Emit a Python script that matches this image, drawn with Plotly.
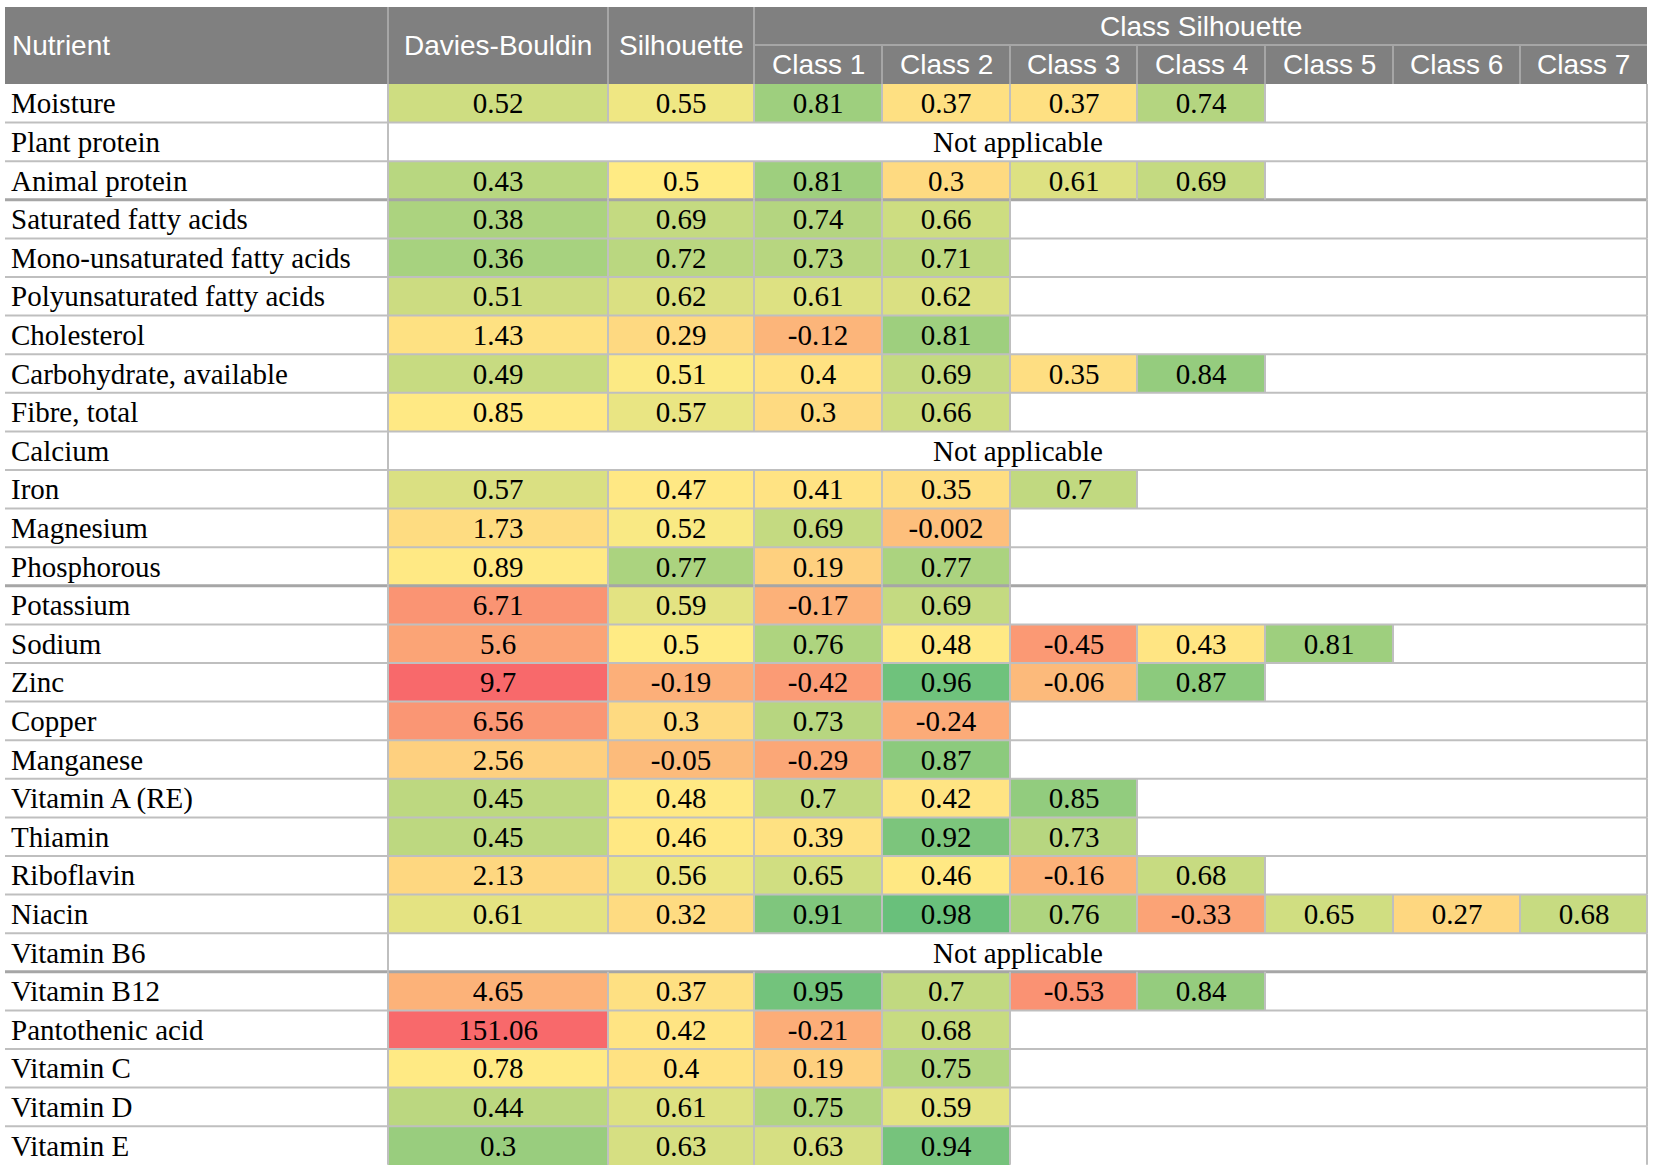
import numpy as np
import plotly.graph_objects as go

# Dados da tabela
######################################################################
nutrients = ["Moisture", "Plant protein", "Animal protein", "Saturated fatty acids",
             "Mono-unsaturated fatty acids", "Polyunsaturated fatty acids", "Cholesterol",
             "Carbohydrate, available", "Fibre, total", "Calcium", "Iron", "Magnesium",
             "Phosphorous", "Potassium", "Sodium", "Zinc", "Copper", "Manganese",
             "Vitamin A (RE)", "Thiamin", "Riboflavin", "Niacin", "Vitamin B6",
             "Vitamin B12", "Pantothenic acid", "Vitamin C", "Vitamin D", "Vitamin E"]

davies_bouldin = [0.52, None, 0.43, 0.38, 0.36, 0.51, 1.43, 0.49, 0.85, None, 0.57, 1.73,
                  0.89, 6.71, 5.6, 9.7, 6.56, 2.56, 0.45, 0.45, 2.13, 0.61, None,
                  4.65, 151.06, 0.78, 0.44, 0.3]

silhouette = [0.55, None, 0.5, 0.69, 0.72, 0.62, 0.29, 0.51, 0.57, None, 0.47, 0.52,
              0.77, 0.59, 0.5, -0.19, 0.3, -0.05, 0.48, 0.46, 0.56, 0.32, None,
              0.37, 0.42, 0.4, 0.61, 0.63]

class_silhouette = [
    [0.81, 0.37, 0.37, 0.74],
    [],
    [0.81, 0.3, 0.61, 0.69],
    [0.74, 0.66],
    [0.73, 0.71],
    [0.61, 0.62],
    [-0.12, 0.81],
    [0.4, 0.69, 0.35, 0.84],
    [0.3, 0.66],
    [],
    [0.41, 0.35, 0.7],
    [0.69, -0.002],
    [0.19, 0.77],
    [-0.17, 0.69],
    [0.76, 0.48, -0.45, 0.43, 0.81],
    [-0.42, 0.96, -0.06, 0.87],
    [0.73, -0.24],
    [-0.29, 0.87],
    [0.7, 0.42, 0.85],
    [0.39, 0.92, 0.73],
    [0.65, 0.46, -0.16, 0.68],
    [0.91, 0.98, 0.76, -0.33, 0.65, 0.27, 0.68],
    [],
    [0.95, 0.7, -0.53, 0.84],
    [-0.21, 0.68],
    [0.19, 0.75],
    [0.75, 0.59],
    [0.63, 0.94],
]

class_labels = ["Class 1", "Class 2", "Class 3", "Class 4", "Class 5", "Class 6", "Class 7"]
group_breaks = [3, 13, 23]   # linhas com separador mais grosso

# Geometria (em pixels)
######################################################################
W, H = 1654, 1168
col_edges = [5, 388, 608, 754, 882, 1010, 1137, 1265, 1393, 1520, 1647]
head_top, head_mid, body_top = 7, 45, 84
row_h = 38.6
n_rows = len(nutrients)
row_edges = [body_top + i*row_h for i in range(n_rows + 1)]
row_mid = [body_top + (i + 0.5)*row_h for i in range(n_rows)]

serif = "Liberation Serif"
sans = "Liberation Sans"
grid_c = "#BFBFBF"
txt_size = 29
hdr_size = 28

# Matrizes
n_cls = len(class_labels)
sil_z = np.full((n_rows, 1 + n_cls), np.nan)
sil_txt = [["" for _ in range(1 + n_cls)] for _ in range(n_rows)]
db_z = np.full((n_rows, 1), np.nan)
db_txt = [[""] for _ in range(n_rows)]
for i in range(n_rows):
    if davies_bouldin[i] is not None:
        db_z[i, 0] = davies_bouldin[i]
        db_txt[i][0] = str(davies_bouldin[i])
    if silhouette[i] is not None:
        sil_z[i, 0] = silhouette[i]
        sil_txt[i][0] = str(silhouette[i])
    for j, v in enumerate(class_silhouette[i]):
        sil_z[i, 1 + j] = v
        sil_txt[i][1 + j] = str(v)

red, yellow, green = "#F8696B", "#FFEB84", "#63BE7B"

fig = go.Figure()

# Davies-Bouldin: menor é melhor
fig.add_trace(go.Heatmap(
    x=col_edges[1:3], y=row_edges, z=db_z, text=db_txt, texttemplate="%{text}",
    textfont=dict(family=serif, size=txt_size, color="black"),
    colorscale=[[0, green], [0.0665, yellow], [1, red]], zmin=0.08, zmax=9.7,
    showscale=False, hoverinfo="skip"))

# Silhouette e Class Silhouette: maior é melhor
fig.add_trace(go.Heatmap(
    x=col_edges[2:], y=row_edges, z=sil_z, text=sil_txt, texttemplate="%{text}",
    textfont=dict(family=serif, size=txt_size, color="black"),
    colorscale=[[0, red], [0.75, yellow], [1, green]], zmin=-1, zmax=1,
    showscale=False, hoverinfo="skip"))

shapes = []
# Cabeçalho
shapes.append(dict(type="rect", x0=col_edges[0], x1=col_edges[-1], y0=head_top, y1=body_top,
                   fillcolor="#808080", line_width=0, layer="below"))
hdr_line = dict(color="#A6A6A6", width=2)
for x in col_edges[1:4]:
    shapes.append(dict(type="line", x0=x, x1=x, y0=head_top, y1=body_top, line=hdr_line))
for x in col_edges[4:-1]:
    shapes.append(dict(type="line", x0=x, x1=x, y0=head_mid, y1=body_top, line=hdr_line))
shapes.append(dict(type="line", x0=col_edges[3], x1=col_edges[-1], y0=head_mid, y1=head_mid, line=hdr_line))

# Linhas horizontais
for i in range(1, n_rows):
    thick = i in group_breaks
    shapes.append(dict(type="line", x0=col_edges[0], x1=col_edges[-1],
                       y0=row_edges[i], y1=row_edges[i],
                       line=dict(color="#A6A6A6" if thick else grid_c, width=3 if thick else 2)))

# Linhas verticais nas células coloridas
for i in range(n_rows):
    y0, y1 = row_edges[i], row_edges[i + 1]
    xs = [col_edges[1], col_edges[-1]]
    if davies_bouldin[i] is not None:
        n_filled = 2 + len(class_silhouette[i])
        xs += col_edges[1:2 + n_filled]
    for x in sorted(set(xs)):
        shapes.append(dict(type="line", x0=x, x1=x, y0=y0, y1=y1, line=dict(color=grid_c, width=2)))

annotations = []
hdr_font = dict(family=sans, size=hdr_size, color="white")
annotations.append(dict(x=col_edges[0] + 5, y=(head_top + body_top)/2, text="Nutrient",
                        xanchor="left", showarrow=False, font=hdr_font))
annotations.append(dict(x=(col_edges[1] + col_edges[2])/2, y=(head_top + body_top)/2,
                        text="Davies-Bouldin", showarrow=False, font=hdr_font))
annotations.append(dict(x=(col_edges[2] + col_edges[3])/2, y=(head_top + body_top)/2,
                        text="Silhouette", showarrow=False, font=hdr_font))
annotations.append(dict(x=(col_edges[3] + col_edges[-1])/2, y=(head_top + head_mid)/2,
                        text="Class Silhouette", showarrow=False, font=hdr_font))
for j, lab in enumerate(class_labels):
    annotations.append(dict(x=(col_edges[3 + j] + col_edges[4 + j])/2, y=(head_mid + body_top)/2,
                            text=lab, showarrow=False, font=hdr_font))

body_font = dict(family=serif, size=txt_size, color="black")
for i, name in enumerate(nutrients):
    annotations.append(dict(x=col_edges[0] + 4, y=row_mid[i], text=name, xanchor="left",
                            showarrow=False, font=body_font))
    if davies_bouldin[i] is None:
        annotations.append(dict(x=(col_edges[1] + col_edges[-1])/2, y=row_mid[i],
                                text="Not applicable", showarrow=False, font=body_font))

fig.update_layout(
    width=W, height=H, margin=dict(l=0, r=0, t=0, b=0),
    paper_bgcolor="white", plot_bgcolor="white",
    xaxis=dict(range=[0, W], visible=False, fixedrange=True),
    yaxis=dict(range=[H, 0], visible=False, fixedrange=True),
    shapes=shapes, annotations=annotations, showlegend=False,
)

# a página tem margem de 8px no body; zera para alinhar com a janela
fig.write_html("out.html", post_script="document.body.style.margin='0';",
               config={"displayModeBar": False})
